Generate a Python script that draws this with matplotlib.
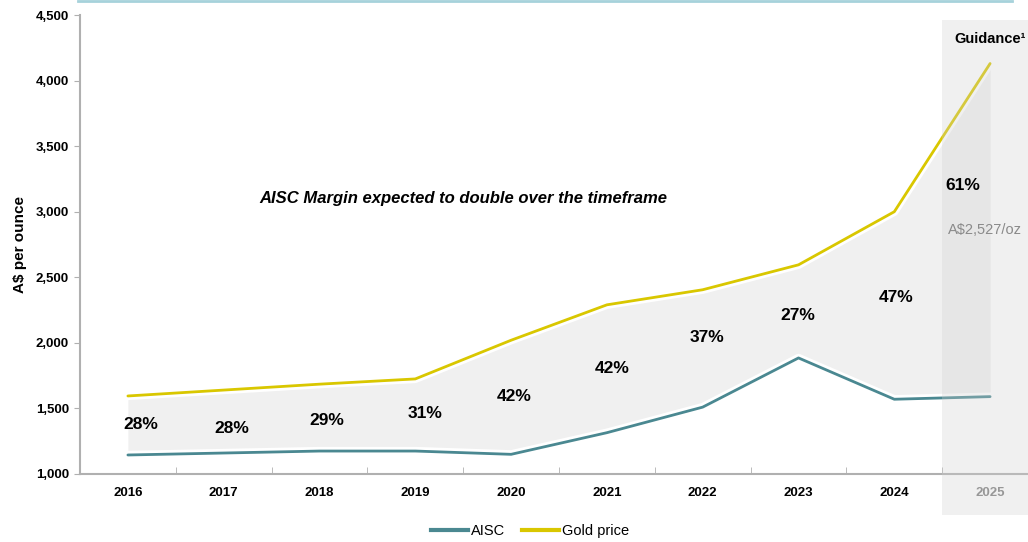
import numpy as np
import matplotlib
matplotlib.use('Agg')
import matplotlib.pyplot as plt
import matplotlib.patheffects as pe
from matplotlib.patches import Rectangle
from matplotlib.lines import Line2D

plt.rcParams['font.family'] = ['Liberation Sans Narrow', 'Liberation Sans', 'DejaVu Sans']

years = ['2016', '2017', '2018', '2019', '2020', '2021', '2022', '2023', '2024', '2025']
gold_price = [1595, 1640, 1685, 1725, 2020, 2290, 2405, 2595, 3000, 4130]
aisc = [1145, 1160, 1175, 1175, 1150, 1315, 1510, 1885, 1570, 1590]
margins = ['28%', '28%', '29%', '31%', '42%', '42%', '37%', '27%', '47%', '61%']
# 标签位置（数值坐标）
margin_y = [1375, 1350, 1405, 1460, 1590, 1805, 2040, 2210, 2345, 3200]
margin_x = [0.13, 0.08, 0.08, 0.1, 0.03, 0.05, 0.05, -0.01, 0.02, -0.28]

teal = '#4a8891'
gold = '#d9c700'

fig = plt.figure(figsize=(10.28, 5.42), dpi=100)
ax = fig.add_axes([80 / 1028, 68 / 542, 948 / 1028, 459 / 542])

x = np.arange(len(years))

# 阴影区域
ax.fill_between(x, aisc, gold_price, color='#f0f0f0', zorder=1, linewidth=0)

white = [pe.Stroke(linewidth=6, foreground='white'), pe.Normal()]
ax.plot(x, aisc, color=teal, lw=2, zorder=3, path_effects=white, solid_capstyle='round')
ax.plot(x, gold_price, color=gold, lw=2, zorder=3, path_effects=white, solid_capstyle='round')

# Guidance 区域
ax.add_patch(Rectangle((8.5, 690), 2, 3775, facecolor='#cfcfcf', alpha=0.3,
                       edgecolor='none', zorder=4, clip_on=False))

for i, m in enumerate(margins):
    ax.text(i + margin_x[i], margin_y[i], m, ha='center', va='center',
            fontsize=12.5, fontweight='bold', zorder=6)

ax.text(8.95, 2860, 'A$2,527/oz', ha='center', va='center', fontsize=10.5,
        color='#8a8a8a', zorder=6)
ax.text(9.0, 4320, 'Guidance¹', ha='center', va='center', fontsize=10.5,
        fontweight='bold', zorder=6)
ax.text(3.5, 3100, 'AISC Margin expected to double over the timeframe',
        ha='center', va='center', fontsize=12, fontweight='bold', style='italic', zorder=6)

ax.set_xlim(-0.5, -0.5 + 948 / 95.8)
ax.set_ylim(1000, 4500)
ax.set_yticks(np.arange(1000, 4501, 500))
ax.set_yticklabels([f'{v:,}' for v in range(1000, 4501, 500)], fontsize=9.5, fontweight='bold')
ax.set_xticks(x)
ax.set_xticklabels(years, fontsize=9.5, fontweight='bold')
ax.get_xticklabels()[-1].set_color('#808080')
ax.set_xticks(np.arange(-0.5, 9.0, 1), minor=True)
ax.tick_params(axis='x', which='major', length=0, pad=9)
ax.tick_params(axis='x', which='minor', length=5, color='#b0b0b0', direction='in')
ax.tick_params(axis='y', length=4, color='#b0b0b0', direction='out', pad=4)
ax.set_ylabel('A$ per ounce', fontsize=11, fontweight='bold', labelpad=6)

for s in ['top', 'right']:
    ax.spines[s].set_visible(False)
for s in ['left', 'bottom']:
    ax.spines[s].set_color('#b0b0b0')
    ax.spines[s].set_linewidth(1.5)

handles = [Line2D([], [], color=teal, lw=3), Line2D([], [], color=gold, lw=3)]
fig.legend(handles, ['AISC', 'Gold price'], loc='center', bbox_to_anchor=(530 / 1028, 11 / 542),
           ncol=2, frameon=False, fontsize=10.5, handlelength=2.5, handletextpad=0.2,
           columnspacing=1.2)

# 顶部细线
fig.add_artist(Line2D([78 / 1028, 1012 / 1028], [1 - 1 / 542, 1 - 1 / 542], color='#a6d2db', lw=2))

fig.savefig('out.png', dpi=100)
